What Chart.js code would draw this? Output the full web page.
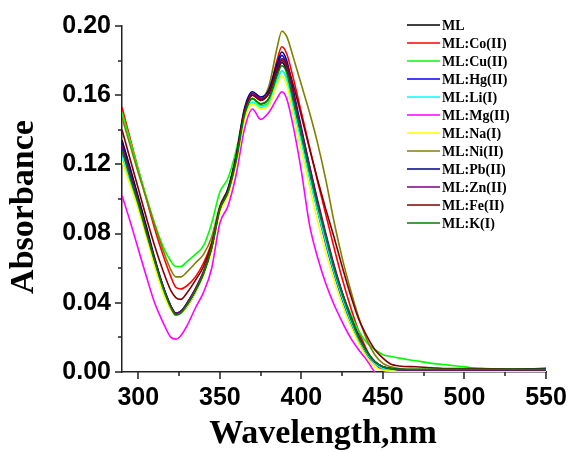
<!DOCTYPE html>
<html>
<head>
<meta charset="utf-8">
<script src="https://cdn.jsdelivr.net/npm/chart.js@4/dist/chart.umd.min.js"></script>
<style>
  html, body { margin: 0; padding: 0; background: #fff; }
  #wrap { width: 569px; height: 452px; }
</style>
</head>
<body>
<div id="wrap"><canvas id="chart" width="569" height="452"></canvas></div>
<script>
// --- DATOS ---
const wavelength = [290, 295, 300, 305, 310, 315, 320, 323, 326, 330, 335, 340, 345, 350, 355, 360, 365, 370, 375, 380, 385, 388, 391, 395, 400, 405, 410, 415, 420, 425, 430, 435, 440, 445, 450, 455, 460, 470, 480, 490, 500, 510, 520, 530, 540, 550];

const ML   = [0.134, 0.118, 0.101, 0.084, 0.066, 0.050, 0.038, 0.034, 0.035, 0.040, 0.048, 0.058, 0.072, 0.094, 0.104, 0.122, 0.148, 0.158, 0.155, 0.158, 0.172, 0.179, 0.174, 0.158, 0.137, 0.117, 0.097, 0.078, 0.060, 0.045, 0.032, 0.021, 0.012, 0.006, 0.003, 0.002, 0.0015, 0.001, 0.001, 0.001, 0.001, 0.001, 0.001, 0.001, 0.001, 0.0012];
const MLCo = [0.153, 0.135, 0.117, 0.100, 0.083, 0.068, 0.055, 0.049, 0.048, 0.050, 0.055, 0.063, 0.075, 0.095, 0.105, 0.123, 0.148, 0.160, 0.157, 0.162, 0.180, 0.188, 0.184, 0.170, 0.150, 0.130, 0.110, 0.091, 0.072, 0.054, 0.038, 0.024, 0.013, 0.005, 0.001, 0.000, 0.000, 0.000, 0.000, 0.0005, 0.0005, 0.0005, 0.0005, 0.0005, 0.0005, 0.0005];
const MLCu = [0.150, 0.134, 0.117, 0.101, 0.086, 0.073, 0.064, 0.061, 0.061, 0.064, 0.068, 0.073, 0.086, 0.104, 0.112, 0.128, 0.150, 0.158, 0.154, 0.156, 0.168, 0.174, 0.170, 0.155, 0.136, 0.115, 0.095, 0.077, 0.060, 0.046, 0.034, 0.024, 0.017, 0.013, 0.010, 0.009, 0.008, 0.0065, 0.005, 0.004, 0.003, 0.002, 0.0018, 0.0015, 0.0015, 0.0015];
const MLHg = [0.130, 0.114, 0.098, 0.081, 0.064, 0.049, 0.037, 0.033, 0.034, 0.038, 0.046, 0.057, 0.072, 0.094, 0.105, 0.124, 0.150, 0.161, 0.158, 0.161, 0.176, 0.183, 0.177, 0.158, 0.135, 0.113, 0.093, 0.074, 0.057, 0.042, 0.029, 0.018, 0.010, 0.005, 0.002, 0.001, 0.001, 0.001, 0.001, 0.001, 0.001, 0.001, 0.001, 0.001, 0.0012, 0.0015];
const MLLi = [0.124, 0.109, 0.095, 0.079, 0.063, 0.048, 0.037, 0.034, 0.035, 0.039, 0.047, 0.057, 0.071, 0.093, 0.103, 0.121, 0.146, 0.156, 0.153, 0.155, 0.168, 0.174, 0.169, 0.153, 0.133, 0.112, 0.093, 0.075, 0.058, 0.043, 0.030, 0.019, 0.011, 0.005, 0.002, 0.001, 0.001, 0.001, 0.001, 0.001, 0.001, 0.001, 0.001, 0.001, 0.001, 0.001];
const MLMg = [0.102, 0.087, 0.071, 0.055, 0.040, 0.029, 0.020, 0.019, 0.021, 0.027, 0.037, 0.046, 0.060, 0.086, 0.096, 0.114, 0.140, 0.152, 0.146, 0.150, 0.158, 0.162, 0.158, 0.142, 0.116, 0.085, 0.066, 0.051, 0.039, 0.029, 0.020, 0.013, 0.007, 0.000, -0.004, -0.005, -0.005, -0.005, -0.005, -0.005, -0.005, -0.005, -0.005, -0.005, -0.005, -0.005];
const MLNa = [0.122, 0.108, 0.094, 0.078, 0.061, 0.046, 0.036, 0.033, 0.034, 0.038, 0.046, 0.056, 0.070, 0.092, 0.102, 0.120, 0.145, 0.155, 0.152, 0.154, 0.166, 0.171, 0.166, 0.149, 0.128, 0.107, 0.087, 0.069, 0.053, 0.039, 0.027, 0.017, 0.009, 0.003, 0.001, 0.0005, 0.0005, 0.0005, 0.0005, 0.0005, 0.0005, 0.0005, 0.0005, 0.0005, 0.0005, 0.0005];
const MLNi = [0.147, 0.131, 0.115, 0.100, 0.085, 0.071, 0.059, 0.055, 0.055, 0.058, 0.063, 0.068, 0.078, 0.096, 0.106, 0.125, 0.150, 0.160, 0.158, 0.165, 0.187, 0.197, 0.194, 0.182, 0.166, 0.150, 0.132, 0.111, 0.087, 0.066, 0.048, 0.032, 0.019, 0.010, 0.005, 0.003, 0.002, 0.0015, 0.0015, 0.0015, 0.0015, 0.0015, 0.0015, 0.0015, 0.0015, 0.0015];
const MLPb = [0.133, 0.116, 0.099, 0.082, 0.065, 0.050, 0.038, 0.034, 0.035, 0.039, 0.047, 0.057, 0.072, 0.095, 0.106, 0.125, 0.152, 0.162, 0.159, 0.163, 0.178, 0.185, 0.180, 0.163, 0.141, 0.119, 0.098, 0.079, 0.061, 0.046, 0.032, 0.021, 0.012, 0.006, 0.003, 0.002, 0.0015, 0.0012, 0.0012, 0.0012, 0.0013, 0.0014, 0.0015, 0.0016, 0.0018, 0.0022];
const MLZn = [0.131, 0.115, 0.099, 0.082, 0.065, 0.050, 0.038, 0.034, 0.035, 0.040, 0.048, 0.058, 0.072, 0.094, 0.104, 0.123, 0.150, 0.161, 0.158, 0.161, 0.174, 0.180, 0.176, 0.161, 0.140, 0.119, 0.099, 0.080, 0.062, 0.046, 0.033, 0.021, 0.012, 0.006, 0.003, 0.002, 0.001, 0.001, 0.001, 0.001, 0.001, 0.001, 0.001, 0.001, 0.001, 0.001];
const MLFe = [0.140, 0.123, 0.106, 0.089, 0.073, 0.059, 0.047, 0.043, 0.042, 0.046, 0.053, 0.061, 0.074, 0.095, 0.105, 0.124, 0.150, 0.160, 0.157, 0.161, 0.175, 0.181, 0.178, 0.166, 0.148, 0.129, 0.111, 0.094, 0.078, 0.061, 0.045, 0.031, 0.021, 0.013, 0.008, 0.0045, 0.0035, 0.003, 0.0025, 0.002, 0.002, 0.002, 0.0018, 0.0016, 0.0015, 0.0015];
const MLK  = [0.128, 0.112, 0.097, 0.080, 0.064, 0.049, 0.037, 0.033, 0.034, 0.039, 0.047, 0.057, 0.072, 0.094, 0.104, 0.122, 0.148, 0.158, 0.155, 0.158, 0.171, 0.177, 0.173, 0.157, 0.137, 0.116, 0.096, 0.078, 0.060, 0.045, 0.032, 0.020, 0.012, 0.006, 0.003, 0.002, 0.0015, 0.0015, 0.0015, 0.0015, 0.0015, 0.0015, 0.0015, 0.0015, 0.0015, 0.0015];

const seriesNames  = ['ML', 'ML:Co(II)', 'ML:Cu(II)', 'ML:Hg(II)', 'ML:Li(I)', 'ML:Mg(II)', 'ML:Na(I)', 'ML:Ni(II)', 'ML:Pb(II)', 'ML:Zn(II)', 'ML:Fe(II)', 'ML:K(I)'];
const seriesValues = [ML, MLCo, MLCu, MLHg, MLLi, MLMg, MLNa, MLNi, MLPb, MLZn, MLFe, MLK];
const seriesColors = ['#000000', '#FF0000', '#00FF00', '#0000FF', '#00FFFF', '#FF00FF', '#FFFF00', '#808000', '#000080', '#800080', '#800000', '#008000'];

const xMajor = [300, 350, 400, 450, 500, 550];
const xMinor = [325, 375, 425, 475, 525];
const yMajor = [0.00, 0.04, 0.08, 0.12, 0.16, 0.20];
const yMinor = [0.02, 0.06, 0.10, 0.14, 0.18];

const tickFont = { family: '"Liberation Sans", Arial, sans-serif', size: 25, weight: 'bold' };
const titleFont = 'bold 34px "Liberation Serif", "Times New Roman", serif';
const legendFont = 'bold 14px "Liberation Serif", "Times New Roman", serif';

// --- PLUGINS ---
// marcas de eje (mayores y menores) hacia afuera
const axisTicks = {
  id: 'axisTicks',
  afterDraw(chart) {
    const { ctx, scales: { x, y } } = chart;
    const x0 = x.left, y0 = y.bottom;
    ctx.save();
    ctx.strokeStyle = '#222';
    ctx.lineWidth = 1.5;
    ctx.beginPath();
    xMajor.forEach(v => { const p = Math.round(x.getPixelForValue(v)); ctx.moveTo(p, y0); ctx.lineTo(p, y0 + 7); });
    xMinor.forEach(v => { const p = Math.round(x.getPixelForValue(v)); ctx.moveTo(p, y0); ctx.lineTo(p, y0 + 4); });
    yMajor.forEach(v => { const p = Math.round(y.getPixelForValue(v)); ctx.moveTo(x0, p); ctx.lineTo(x0 - 7, p); });
    yMinor.forEach(v => { const p = Math.round(y.getPixelForValue(v)); ctx.moveTo(x0, p); ctx.lineTo(x0 - 4, p); });
    ctx.stroke();

    // titulos de ejes
    ctx.fillStyle = '#000';
    ctx.font = titleFont;
    ctx.textAlign = 'center';
    ctx.textBaseline = 'alphabetic';
    ctx.fillText('Wavelength,nm', (chart.chartArea.left + chart.chartArea.right) / 2 - 11, 443);
    ctx.save();
    ctx.translate(33, (chart.chartArea.top + chart.chartArea.bottom) / 2 + 8);
    ctx.rotate(-Math.PI / 2);
    ctx.fillText('Absorbance', 0, 0);
    ctx.restore();
    ctx.restore();
  }
};

// leyenda dentro del area, arriba a la derecha
const sideLegend = {
  id: 'sideLegend',
  afterDraw(chart) {
    const { ctx } = chart;
    ctx.save();
    ctx.font = legendFont;
    ctx.textBaseline = 'middle';
    ctx.textAlign = 'left';
    chart.data.datasets.forEach((ds, i) => {
      const yy = 25 + i * 18;
      ctx.strokeStyle = ds.borderColor;
      ctx.lineWidth = 1.5;
      ctx.beginPath();
      ctx.moveTo(407, yy);
      ctx.lineTo(440, yy);
      ctx.stroke();
      ctx.fillStyle = '#000';
      ctx.fillText(ds.label, 442, yy + 1);
    });
    ctx.restore();
  }
};

// --- GRAFICO ---
const datasets = seriesNames.map((name, i) => ({
  label: name,
  data: wavelength.map((w, j) => ({ x: w, y: seriesValues[i][j] })),
  borderColor: seriesColors[i],
  backgroundColor: seriesColors[i],
  borderWidth: 1.6,
  pointRadius: 0,
  cubicInterpolationMode: 'monotone',
  order: seriesNames.length - i
}));

new Chart(document.getElementById('chart'), {
  type: 'line',
  data: { datasets },
  options: {
    responsive: false,
    animation: false,
    devicePixelRatio: 1,
    layout: { padding: { top: 26, right: 23, left: 0, bottom: 0 } },
    plugins: { legend: { display: false }, tooltip: { enabled: false } },
    scales: {
      x: {
        type: 'linear',
        min: 290,
        max: 550,
        afterBuildTicks: s => { s.ticks = xMajor.map(v => ({ value: v })); },
        afterFit: s => { s.height = 80; s.paddingLeft = 0; s.paddingRight = 0; },
        grid: { display: false, drawTicks: false },
        border: { display: true, color: '#222', width: 1.5 },
        ticks: { font: tickFont, color: '#000', padding: 11, maxRotation: 0, autoSkip: false }
      },
      y: {
        type: 'linear',
        min: 0,
        max: 0.2,
        afterBuildTicks: s => { s.ticks = yMajor.map(v => ({ value: v })); },
        afterFit: s => { s.width = 122; s.paddingTop = 0; s.paddingBottom = 0; },
        grid: { display: false, drawTicks: false },
        border: { display: true, color: '#222', width: 1.5 },
        ticks: { font: tickFont, color: '#000', padding: 11, callback: v => Number(v).toFixed(2) }
      }
    }
  },
  plugins: [axisTicks, sideLegend]
});
</script>
</body>
</html>
